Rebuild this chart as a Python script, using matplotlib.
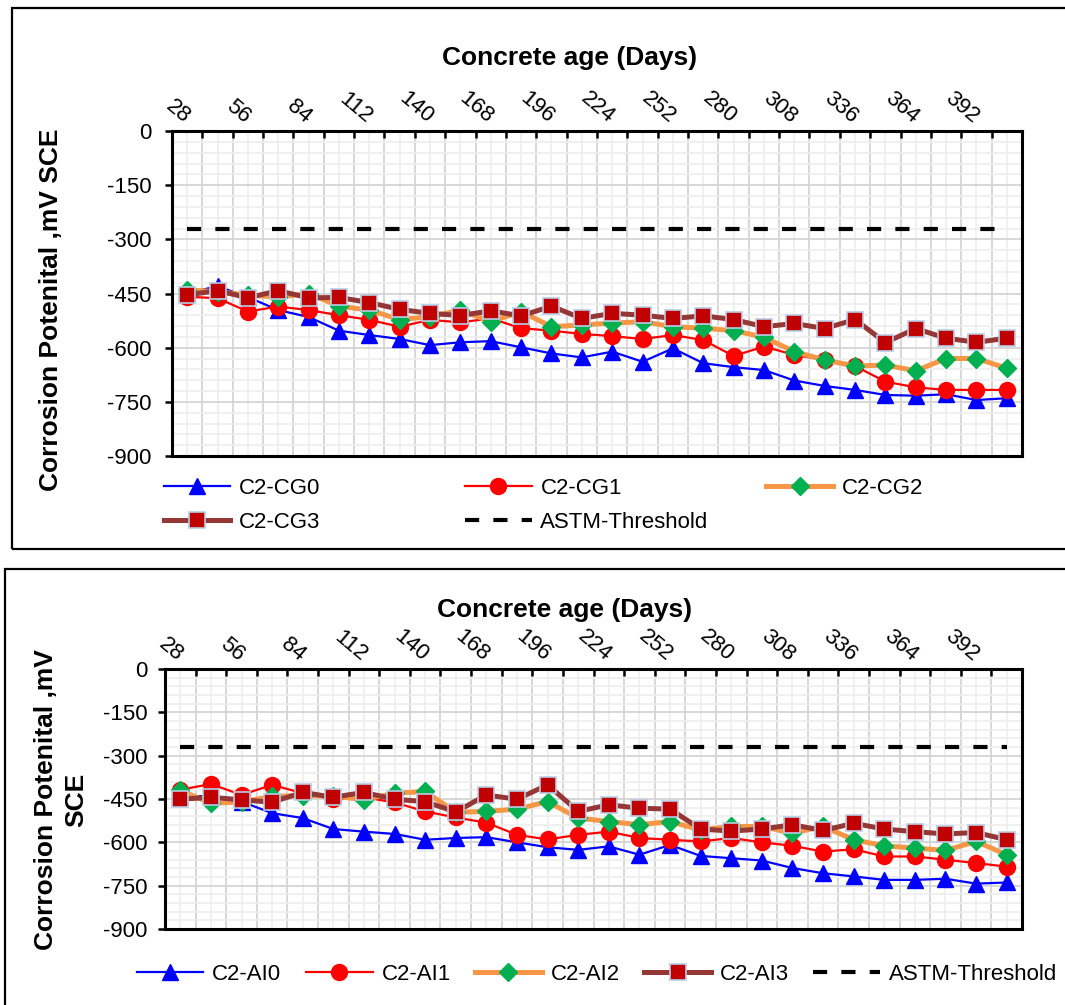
import numpy as np
import matplotlib.pyplot as plt
from matplotlib.patches import Rectangle

plt.rcParams['font.family'] = ['Liberation Sans', 'DejaVu Sans']
plt.rcParams['axes.unicode_minus'] = False

# concrete age, days (category axis, every 14 days)
days = [28, 42, 56, 70, 84, 98, 112, 126, 140, 154, 168, 182, 196, 210,
        224, 238, 252, 266, 280, 294, 308, 322, 336, 350, 364, 378, 392, 406]
threshold = -270

# top panel: CG series (mV SCE)
cg0 = [-449, -430, -460, -496, -515, -553, -565, -576, -593, -585, -582, -599, -616, -627,
       -611, -639, -602, -643, -654, -662, -691, -706, -717, -731, -733, -729, -745, -740]
cg1 = [-459, -463, -500, -486, -496, -510, -523, -542, -523, -530, -519, -546, -553, -562,
       -568, -576, -565, -579, -623, -597, -620, -634, -651, -694, -710, -717, -717, -717]
cg2 = [-440, -445, -454, -460, -450, -485, -496, -522, -514, -496, -528, -500, -542, -537,
       -532, -528, -542, -546, -553, -571, -611, -634, -651, -648, -664, -630, -630, -657]
cg3 = [-454, -442, -462, -442, -462, -461, -475, -494, -505, -511, -498, -512, -485, -519,
       -505, -510, -519, -512, -522, -542, -533, -547, -522, -586, -547, -574, -585, -574]

# bottom panel: AI series (mV SCE)
ai0 = [-440, -440, -459, -499, -516, -554, -563, -571, -591, -585, -582, -600, -617, -626,
       -614, -643, -609, -647, -655, -663, -689, -707, -718, -730, -730, -726, -743, -739]
ai1 = [-418, -398, -436, -401, -430, -451, -444, -462, -493, -514, -532, -574, -590, -574,
       -563, -585, -591, -597, -585, -600, -612, -632, -624, -649, -649, -660, -672, -684]
ai2 = [-420, -465, -460, -441, -438, -440, -452, -430, -424, -496, -493, -485, -459, -516,
       -528, -539, -528, -557, -545, -545, -568, -545, -591, -612, -620, -628, -597, -643]
ai3 = [-451, -444, -453, -461, -427, -444, -427, -451, -459, -495, -436, -451, -401, -493,
       -470, -482, -485, -554, -561, -554, -539, -559, -534, -554, -563, -571, -566, -591]

cg_names = ['C2-CG0', 'C2-CG1', 'C2-CG2', 'C2-CG3']
ai_names = ['C2-AI0', 'C2-AI1', 'C2-AI2', 'C2-AI3']

W, H = 1065, 1005
fig = plt.figure(figsize=(W / 100, H / 100), dpi=100)

# panel borders
fig.add_artist(Rectangle((12 / W, 1 - 549 / H), 1.1, 541 / H, transform=fig.transFigure,
                         fill=False, ec='black', lw=1.6))
fig.add_artist(Rectangle((5 / W, -0.1), 1.1, 0.1 + 1 - 569 / H, transform=fig.transFigure,
                         fill=False, ec='black', lw=1.6))

ax1 = fig.add_axes([172 / W, 1 - 456 / H, 850 / W, 325 / H])
ax2 = fig.add_axes([165 / W, 1 - 929 / H, 857 / W, 260 / H])

x = np.arange(len(days))
styles = [dict(color='#0000FF', lw=1.6, marker='^', ms=11, mfc='#0000FF', mec='#0000FF'),
          dict(color='#FF0000', lw=1.6, marker='o', ms=11.5, mfc='#FF0000', mec='#FF0000'),
          dict(color='#F79646', lw=3.6, marker='D', ms=9.5, mfc='#00B050', mec='#00B050'),
          dict(color='#953735', lw=3.6, marker='s', ms=11.5, mfc='#C00000', mec='#B9CDE5', mew=1.2)]


def setup(ax, series, names, ypad):
    lines = []
    for s, name, st in zip(series, names, styles):
        ln, = ax.plot(x, s, label=name, zorder=3, **st)
        lines.append(ln)
    th, = ax.plot([x[0], x[-1]], [threshold, threshold], color='black', lw=3,
                  linestyle=(0, (3.4, 3.4)), label='ASTM-Threshold', zorder=2)
    lines.append(th)

    ax.set_xlim(-0.5, len(days) - 0.5)
    ax.set_ylim(-900, 0)
    ax.set_yticks(np.arange(-900, 1, 150))
    ax.set_yticks(np.arange(-900, 1, 30), minor=True)
    ax.set_xticks(np.arange(0.5, len(days) - 1, 1))
    ax.set_xticks(x, labels=[str(d) if i % 2 == 0 else '' for i, d in enumerate(days)], minor=True)
    ax.xaxis.set_ticks_position('top')
    ax.tick_params(axis='x', which='major', direction='in', length=5, width=1.8, labeltop=False)
    ax.tick_params(axis='x', which='minor', length=0, pad=8, labelsize=16)
    ax.tick_params(axis='y', which='major', direction='out', length=5, width=1.8,
                   labelsize=16, pad=ypad)
    ax.tick_params(axis='y', which='minor', length=0)
    plt.setp(ax.get_xticklabels(minor=True), rotation=-40, ha='right', va='center',
             rotation_mode='anchor')
    ax.grid(which='major', color='#d4d4d4', lw=1.3)
    ax.grid(which='minor', color='#eeeeee', lw=1.2)
    ax.set_axisbelow(True)
    for sp in ax.spines.values():
        sp.set_linewidth(2.2)
    return lines


l1 = setup(ax1, [cg0, cg1, cg2, cg3], cg_names, 10)
l2 = setup(ax2, [ai0, ai1, ai2, ai3], ai_names, 7.5)

leg_kw = dict(frameon=False, fontsize=16, handlelength=3.0, handletextpad=0.4,
              borderaxespad=0, borderpad=0)
leg_a = ax1.legend(l1[:3], cg_names[:3], ncol=3, loc='upper left', bbox_to_anchor=(-0.01, -0.068),
                   columnspacing=6.5, **leg_kw)
ax1.add_artist(leg_a)
ax1.legend([l1[3], l1[4]], [cg_names[3], 'ASTM-Threshold'], ncol=2, loc='upper left',
           bbox_to_anchor=(-0.01, -0.172), columnspacing=6.5, **leg_kw)

ax2.legend(l2, ai_names + ['ASTM-Threshold'], ncol=5, loc='upper left',
           bbox_to_anchor=(-0.033, -0.135), columnspacing=1.1, **leg_kw)

fig.text(570 / W, 1 - 58 / H, 'Concrete age (Days)', ha='center', va='center',
         fontsize=19, fontweight='bold')
fig.text(565 / W, 1 - 610 / H, 'Concrete age (Days)', ha='center', va='center',
         fontsize=19, fontweight='bold')
fig.text(51 / W, 1 - 310 / H, 'Corrosion Potenital ,mV SCE', ha='center', va='center',
         rotation=90, fontsize=19, fontweight='bold')
fig.text(61 / W, 1 - 800 / H, 'Corrosion Potenital ,mV\nSCE', ha='center', va='center',
         rotation=90, fontsize=19, fontweight='bold', linespacing=1.3)

fig.savefig('out.png', dpi=100)
